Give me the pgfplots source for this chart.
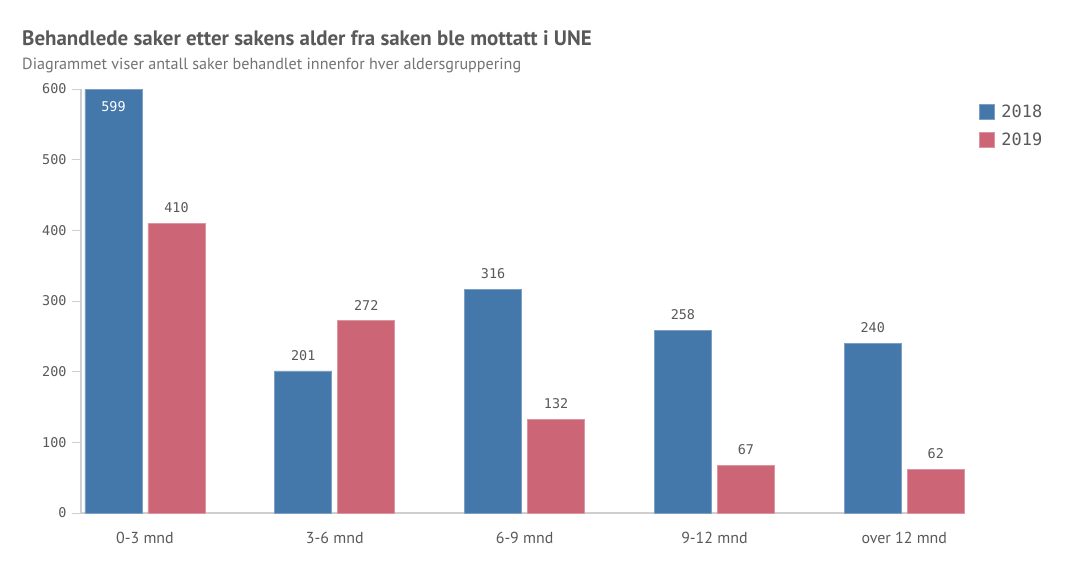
\documentclass[border=0pt]{standalone}
\usepackage{fontspec}
\setmainfont{PT Sans}
\newfontfamily\monofont{DejaVu Sans Mono}
\usepackage{pgfplots}
\pgfplotsset{compat=1.18}

\definecolor{blue18}{HTML}{4477AA}
\definecolor{red19}{HTML}{CC6677}
\definecolor{txtgray}{HTML}{595959}
\definecolor{subgray}{HTML}{737373}
\definecolor{axgray}{HTML}{CFCFCF}

\begin{document}
\begin{tikzpicture}
\useasboundingbox[fill=white] (0,0) rectangle (1072bp,561bp);
\node[anchor=base west,inner sep=0pt,text=txtgray,font=\bfseries\fontsize{21}{23}\selectfont]
  at (22bp,515bp) {Behandlede saker etter sakens alder fra saken ble mottatt i UNE};
\node[anchor=base west,inner sep=0pt,text=subgray,font=\fontsize{16.2}{18}\selectfont]
  at (22bp,491bp) {Diagrammet viser antall saker behandlet innenfor hver aldersgruppering};
\begin{axis}[
  at={(81bp,48bp)}, anchor=south west,
  scale only axis, width=884bp, height=424bp,
  xmin=-0.337, xmax=4.32, ymin=0, ymax=600,
  axis x line=bottom, axis y line=left,
  axis line style={axgray,line width=1.2pt,-},
  xtick={0,1,2,3,4},
  xticklabels={0-3 mnd,3-6 mnd,6-9 mnd,9-12 mnd,over 12 mnd},
  major x tick style={draw=none},
  ytick={0,100,200,300,400,500,600},
  major y tick style={axgray,line width=0.8pt},
  tick align=outside, major tick length=9bp,
  x tick label style={text=txtgray,font=\fontsize{16}{18}\selectfont,yshift=-7bp},
  y tick label style={text=txtgray,font=\monofont\fontsize{13.5}{15}\selectfont,xshift=-2bp},
  /pgf/number format/assume math mode=true,
  ybar, bar width=57bp,
  nodes near coords,
  every node near coord/.append style={font=\monofont\fontsize{13.5}{15}\selectfont,yshift=7bp},
  legend style={at={(rel axis cs:1,1)},anchor=north west,xshift=11bp,yshift=-12bp,
    draw=none,fill=none,row sep=10bp,font=\monofont\fontsize{17}{19}\selectfont,text=txtgray},
  legend cell align=left,
  legend image code/.code={\fill[#1] (0bp,-7.5bp) rectangle (15bp,7.5bp);},
  clip=false,
]
\addplot[fill=blue18,draw=blue18!70!white,line width=0.6pt,bar shift=-31.5bp,
  coordinate style/.condition={y<=590}{text=txtgray},
  coordinate style/.condition={y>590}{anchor=north,yshift=-15bp,text=white}]
  coordinates {(0,599) (1,201) (2,316) (3,258) (4,240)};
\addplot[fill=red19,draw=red19!70!white,line width=0.6pt,bar shift=31.5bp,
  coordinate style/.condition={y>-1}{text=txtgray}]
  coordinates {(0,410) (1,272) (2,132) (3,67) (4,62)};
\legend{\;2018,\;2019}
\end{axis}
\end{tikzpicture}
\end{document}
